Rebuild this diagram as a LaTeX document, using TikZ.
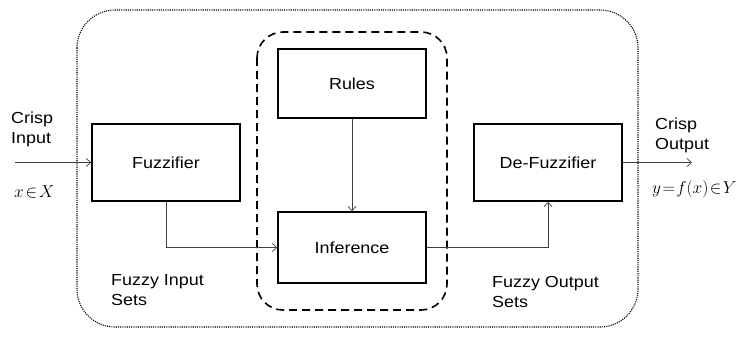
\documentclass[tikz,border=0pt]{standalone}
\usepackage{fontspec}
\setmainfont{Liberation Sans}[FakeStretch=1.12]
\usetikzlibrary{arrows.meta}
\begin{document}
\begin{tikzpicture}[x=1pt,y=-1pt,
  blk/.style={draw=black,line width=1.4pt,minimum width=148pt,inner sep=0pt,font=\fontsize{16}{19}\selectfont},
  conn/.style={draw=black!75,line width=0.8pt,-{Straight Barb[length=4.5pt,width=8pt,line width=0.7pt]}},
  lbl/.style={anchor=north west,inner sep=0pt,align=left,font=\fontsize{16}{20}\selectfont},
  mth/.style={anchor=base west,inner sep=0pt,font=\fontsize{18}{20}\selectfont}]
\useasboundingbox (0,0) rectangle (744,337);
% outer dotted frame
\draw[line width=1.1pt,dash pattern=on 1.1pt off 1.1pt,rounded corners=38pt] (77,10) rectangle (638,327);
% dashed inner frame
\draw[line width=1.6pt,dash pattern=on 8pt off 5pt,rounded corners=26pt] (257,32) rectangle (447,310);
% blocks
\node[blk,minimum height=69pt] (rules) at (352,83.5) {Rules};
\node[blk,minimum height=71pt] (infer) at (352,247.5) {Inference};
\node[blk,minimum height=77pt] (fuzz) at (166,162.5) {Fuzzifier};
\node[blk,minimum height=77pt] (defuzz) at (548,162.5) {De-Fuzzifier};
\coordinate (inl) at (15,162.5);
\coordinate (outr) at (692,162.5);
% connectors
\draw[conn] (inl) -- (fuzz.west);
\draw[conn] (defuzz.east) -- (outr);
\draw[conn] (rules.south) -- (infer.north);
\draw[conn] (fuzz.south) |- (infer.west);
\draw[conn] (infer.east) -| (defuzz.south);
% labels
\node[lbl] (cin) at (11,111.5) {Crisp\\Input};
\node[lbl] (cout) at (655,117.5) {Crisp\\Output};
\node[lbl] (fin) at (111,274.5) {Fuzzy Input\\Sets};
\node[lbl] (fout) at (492,276) {Fuzzy Output\\Sets};
\node[mth] (xin) at (14,197) {$\thickmuskip=2mu x\in X$};
\node[mth] (yout) at (652,193) {$\thickmuskip=1.5mu y=f(x)\in Y$};
\end{tikzpicture}
\end{document}
